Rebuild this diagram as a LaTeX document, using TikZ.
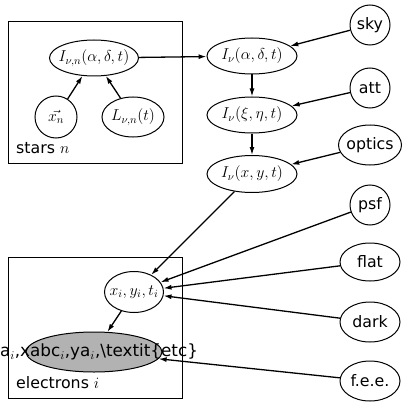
\RequirePackage{fix-cm}
\documentclass[tikz,border=0pt]{standalone}
\usepackage{fontspec}
\setmainfont{DejaVu Sans}
\usetikzlibrary{shapes.geometric,arrows.meta}
\newcommand{\zw}[1]{\makebox[0pt][c]{#1}}
\begin{document}
\begin{tikzpicture}[x=1pt,y=-1pt,
  every node/.style={font=\fontsize{15.8}{19}\selectfont, inner sep=0pt},
  ell/.style={draw, ellipse, line width=1pt},
  circ/.style={draw, circle, line width=1pt, minimum size=40pt},
  plate/.style={draw, line width=1pt, minimum width=174pt, minimum height=141pt},
  arr/.style={line width=1.3pt, -{Latex[length=8pt,width=5pt]}}
]
\useasboundingbox (0,0) rectangle (407,409);
% plates
\node[plate] (stars) at (95,92.5) {};
\node[plate] (electrons) at (95,327.5) {};
\node[anchor=west] (starslabel) at (16,148) {stars $n$};
\node[anchor=west] (electronslabel) at (16,383) {electrons $i$};
% star nodes
\node[ell, minimum width=89pt, minimum height=36pt] (In) at (94,58) {\zw{$I_{\nu,n}(\alpha,\delta,t)$}};
\node[circ, minimum size=42pt] (xn) at (56,117) {\zw{$\vec{x_n}$}};
\node[ell, minimum width=62pt, minimum height=40pt] (L) at (133,117) {\zw{$L_{\nu,n}(t)$}};
% chain
\node[ell, minimum width=90pt, minimum height=36pt] (Ia) at (252,56) {\zw{$I_\nu(\alpha,\delta,t)$}};
\node[ell, minimum width=90pt, minimum height=36pt] (Ixi) at (252,115) {\zw{$I_\nu(\xi,\eta,t)$}};
\node[ell, minimum width=90pt, minimum height=37pt] (Ixy) at (252,174) {\zw{$I_\nu(x,y,t)$}};
% right column
\node[circ] (sky) at (370,25) {\zw{sky}};
\node[circ] (att) at (370,88) {\zw{att}};
\node[ell, minimum width=63pt, minimum height=40pt] (optics) at (370,145) {\zw{optics}};
\node[circ] (psf) at (370,205) {\zw{psf}};
\node[ell, minimum width=60pt, minimum height=38pt] (flat) at (370,262) {\zw{flat}};
\node[ell, minimum width=60pt, minimum height=40pt] (dark) at (370,322) {\zw{dark}};
\node[ell, minimum width=60pt, minimum height=40pt] (fee) at (370,381) {\zw{f.e.e.}};
% electron nodes
\node[ell, minimum width=59pt, minimum height=41pt] (xi) at (134,292) {\zw{$x_i,y_i,t_i$}};
\node[ell, fill=black!30, minimum width=136pt, minimum height=40pt] (obs) at (94,352) {};
\node[font=\fontsize{16.8}{20}\selectfont] (obstext) at ([xshift=5pt]obs.center) {\zw{a$_i$,xabc$_i$,ya$_i$,\textbackslash textit\{etc\}}};
% edges
\draw[arr] (xn) -- (In);
\draw[arr] (L) -- (In);
\draw[arr] (In) -- (Ia);
\draw[arr] (Ia) -- (Ixi);
\draw[arr] (Ixi) -- (Ixy);
\draw[arr] (sky) -- (Ia);
\draw[arr] (att) -- (Ixi);
\draw[arr] (optics) -- (Ixy);
\draw[arr] (Ixy) -- (xi);
\draw[arr] (psf) -- (xi);
\draw[arr] (flat) -- (xi);
\draw[arr] (dark) -- (xi);
\draw[arr] (xi) -- (obs);
\draw[arr] (fee) -- (obs);
\end{tikzpicture}
\end{document}
